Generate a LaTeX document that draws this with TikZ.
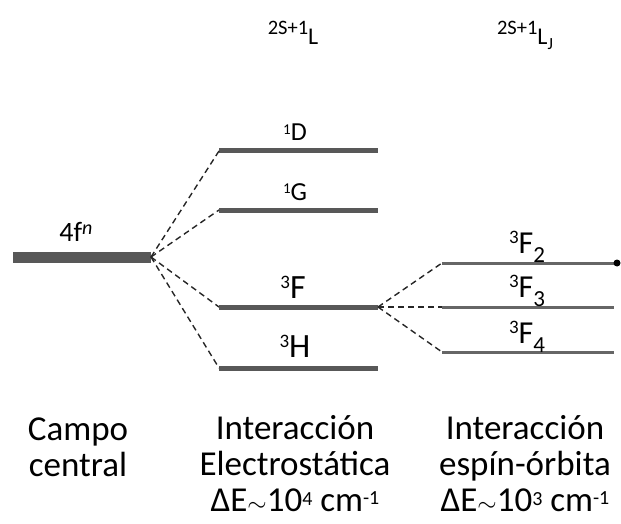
\documentclass[tikz,border=0pt]{standalone}
\usepackage{fontspec}
\setmainfont{Carlito}
% raised / lowered indices with their own size (size, shift, text)
\newcommand{\hi}[3]{\raisebox{#2}{\fontsize{#1}{#1}\selectfont #3}}
\newcommand{\lo}[3]{\raisebox{-#2}{\fontsize{#1}{#1}\selectfont #3}}
\begin{document}
\begin{tikzpicture}[x=1pt,y=-1pt,
  levelbar/.style={draw=barcol,line width=5pt},
  corebar/.style={draw=barcol,line width=11pt},
  finebar/.style={draw=finecol,line width=3pt},
  split/.style={draw=black!85,line width=1.4pt,dash pattern=on 6pt off 4pt},
  term/.style={anchor=base,inner sep=0pt,font=\fontsize{34}{34}\selectfont},
  jterm/.style={anchor=base,inner sep=0pt,font=\fontsize{32}{32}\selectfont},
  smallterm/.style={anchor=base,inner sep=0pt,font=\fontsize{26}{26}\selectfont},
  head/.style={anchor=base,inner sep=0pt,font=\fontsize{24}{24}\selectfont},
  caption/.style={anchor=base,inner sep=0pt,align=center,font=\fontsize{35}{36}\selectfont}]
\definecolor{barcol}{HTML}{585858}
\definecolor{finecol}{HTML}{666666}
\useasboundingbox (0,0) rectangle (621,524);

% column headings
\node[head] (hL) at (293,45) {\hi{20.5}{10pt}{2S+1}L};
\node[head] (hLJ) at (525,45) {\hi{20.5}{10pt}{2S+1}L\lo{17}{5pt}{J}};

% central-field configuration
\coordinate (cfL) at (13,257);
\coordinate (cfR) at (151,257);
\draw[corebar] (cfL) -- (cfR);
\node[head,font=\fontsize{28}{28}\selectfont] (cfT) at (76,241) {4f\hi{20}{7pt}{\itshape n}};

% electrostatic terms
\foreach \nm/\y in {D/151,G/210,F/307,H/368}{
  \coordinate (\nm L) at (219,\y);
  \coordinate (\nm R) at (378,\y);
  \draw[levelbar] (\nm L) -- (\nm R);
  \draw[split] (cfR) -- (\nm L);
}
\node[smallterm] (tD) at (295,141) {\hi{15}{6pt}{1}D};
\node[smallterm] (tG) at (295,200) {\hi{15}{6pt}{1}G};
\node[term] (tF) at (293,298) {\hi{19}{10pt}{3}F};
\node[term] (tH) at (295,357) {\hi{19}{10pt}{3}H};

% spin-orbit levels
\foreach \j/\y/\e in {2/263/617,3/307/614,4/352/614}{
  \coordinate (J\j L) at (442,\y);
  \coordinate (J\j R) at (\e,\y);
  \draw[finebar] (J\j L) -- (J\j R);
  \draw[split] (FR) -- (J\j L);
}
\fill[black] (J2R) circle (3.5pt);
\node[jterm] (t2) at (527,253) {\hi{19}{10pt}{3}F\lo{23}{9pt}{2}};
\node[jterm] (t3) at (527,297) {\hi{19}{10pt}{3}F\lo{23}{9pt}{3}};
\node[jterm] (t4) at (527,343) {\hi{19}{10pt}{3}F\lo{23}{9pt}{4}};

% captions
\node[caption] (c1) at (78,476) {Campo\\central};
\node[caption] (c2) at (295,511) {Interacción\\Electrostática\\ΔE$\sim$10\hi{20}{6pt}{4} cm\hi{20}{7pt}{-1}};
\node[caption] (c3) at (525,511) {Interacción\\espín-órbita\\ΔE$\sim$10\hi{20}{6pt}{3} cm\hi{20}{7pt}{-1}};
\end{tikzpicture}
\end{document}
